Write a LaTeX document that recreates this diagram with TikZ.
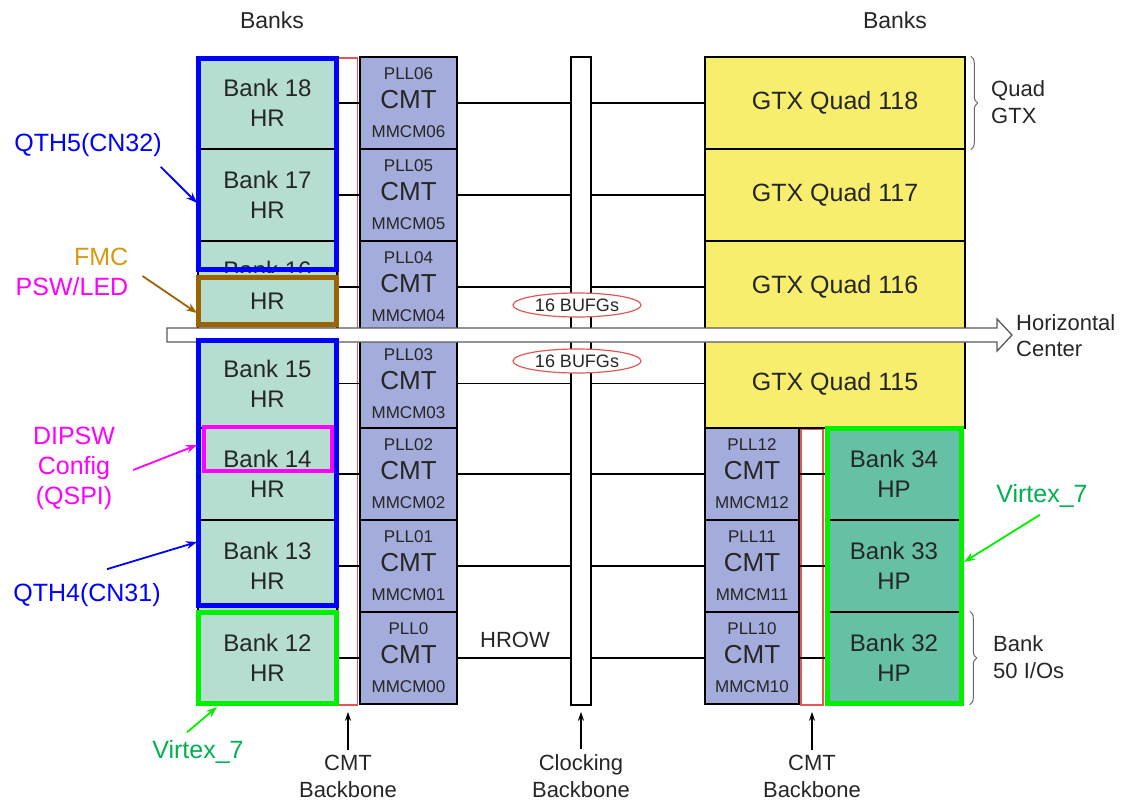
\documentclass[tikz,border=0pt]{standalone}
\usepackage{fontspec}
\setmainfont{Liberation Sans}
\definecolor{banklt}{HTML}{B5DED1}
\definecolor{bankdk}{HTML}{66C0A6}
\definecolor{cmtfill}{HTML}{A3ACDB}
\definecolor{gtxfill}{HTML}{F7EE6E}
\definecolor{bbred}{HTML}{E05858}
\definecolor{txtdark}{HTML}{262626}
\definecolor{qthblue}{HTML}{0000FF}
\definecolor{fmcbrown}{HTML}{9A6400}
\definecolor{fmcgold}{HTML}{D49A10}
\definecolor{dipmag}{HTML}{FF00FF}
\definecolor{vgreen}{HTML}{00F000}
\definecolor{vtext}{HTML}{00B050}
\usepackage{tikz}
\usetikzlibrary{arrows.meta, shapes.geometric, decorations.pathreplacing}

\begin{document}
\begin{tikzpicture}[
  x=1pt, y=-1pt,
  cell/.style={draw=black, line width=1.5pt, inner sep=0pt, align=center, text=txtdark},
  bankhr/.style={cell, fill=banklt, minimum width=139pt, minimum height=92pt,
                 font=\fontsize{24}{30}\selectfont},
  bankhp/.style={bankhr, fill=bankdk, minimum width=136pt},
  cmt/.style={cell, fill=cmtfill, minimum width=97pt, minimum height=92pt,
              font=\fontsize{17}{29}\selectfont},
  gtx/.style={cell, fill=gtxfill, minimum width=260pt, minimum height=92pt,
              font=\fontsize{25}{30}\selectfont},
  bbone/.style={draw=bbred, line width=1.6pt, fill=white, inner sep=0pt},
  hilite/.style={line width=5pt, inner sep=0pt},
  bufg/.style={ellipse, draw=bbred, line width=1.2pt, fill=white, inner sep=0pt,
               minimum width=128pt, minimum height=24pt, text=txtdark,
               font=\fontsize{18}{20}\selectfont},
  link/.style={draw=black, line width=1.5pt},
  plain/.style={font=\fontsize{22}{27}\selectfont, text=txtdark, align=center, inner sep=1pt},
  ann/.style={font=\fontsize{25}{30}\selectfont, align=center, inner sep=1pt},
  annarr/.style={line width=1.8pt, -{Stealth[length=11pt,width=8pt]}},
  uparr/.style={line width=1.5pt, -{Stealth[length=9pt,width=6pt]}, shorten <=4pt, shorten >=6pt},
  brc/.style={decorate, decoration={brace, amplitude=7pt}, draw=black!60, line width=1pt},
]
\useasboundingbox (0,0) rectangle (1127,804);

% backbones behind the links
\node[bbone, minimum width=19pt, minimum height=647pt] (cmtbbL) at (348,381.5) {};
\node[bbone, minimum width=22pt, minimum height=276pt] (cmtbbR) at (812,567) {};

% left banks
\node[bankhr] (b18) at (267.5,103) {Bank 18\\HR};
\node[bankhr] (b17) at (267.5,195) {Bank 17\\HR};
\node[bankhr] (b16) at (267.5,287) {};
\node[bankhr, minimum height=89pt] (b15) at (267.5,383.5) {Bank 15\\HR};
\node[bankhr] (b14) at (267.5,474) {Bank 14\\HR};
\node[bankhr] (b13) at (267.5,566) {Bank 13\\HR};
\node[bankhr] (b12) at (267.5,658) {Bank 12\\HR};
\begin{scope}
  \clip (198,242) rectangle (337,272);
  \node[font=\fontsize{24}{30}\selectfont, text=txtdark, inner sep=0pt] (b16t) at (267.5,270) {Bank 16};
\end{scope}

% left CMT column
\node[cmt] (c06) at (408.5,103) {PLL06\\{\fontsize{26}{29}\selectfont CMT}\\MMCM06};
\node[cmt] (c05) at (408.5,195) {PLL05\\{\fontsize{26}{29}\selectfont CMT}\\MMCM05};
\node[cmt] (c04) at (408.5,287) {PLL04\\{\fontsize{26}{29}\selectfont CMT}\\MMCM04};
\node[cmt, minimum height=89pt] (c03) at (408.5,383.5) {PLL03\\{\fontsize{26}{29}\selectfont CMT}\\MMCM03};
\node[cmt] (c02) at (408.5,474) {PLL02\\{\fontsize{26}{29}\selectfont CMT}\\MMCM02};
\node[cmt] (c01) at (408.5,566) {PLL01\\{\fontsize{26}{29}\selectfont CMT}\\MMCM01};
\node[cmt] (c00) at (408.5,658) {PLL0\\{\fontsize{26}{29}\selectfont CMT}\\MMCM00};

% GTX quads
\node[gtx] (g118) at (835,103) {GTX Quad 118};
\node[gtx] (g117) at (835,195) {GTX Quad 117};
\node[gtx] (g116) at (835,287) {GTX Quad 116};
\node[gtx, minimum height=89pt] (g115) at (835,383.5) {GTX Quad 115};

% right CMT column and HP banks
\node[cmt, minimum width=94pt] (c12) at (752,474) {PLL12\\{\fontsize{26}{29}\selectfont CMT}\\MMCM12};
\node[cmt, minimum width=94pt] (c11) at (752,566) {PLL11\\{\fontsize{26}{29}\selectfont CMT}\\MMCM11};
\node[cmt, minimum width=94pt] (c10) at (752,658) {PLL10\\{\fontsize{26}{29}\selectfont CMT}\\MMCM10};
\node[bankhp] (b34) at (894,474) {Bank 34\\HP};
\node[bankhp] (b33) at (894,566) {Bank 33\\HP};
\node[bankhp] (b32) at (894,658) {Bank 32\\HP};

% links
\draw[link] (b18) -- (c06);
\draw[link] (b17) -- (c05);
\draw[link] (b16) -- (c04);
\draw[link] (b15) -- (c03);
\draw[link] (b14) -- (c02);
\draw[link] (b13) -- (c01);
\draw[link] (b12) -- (c00);
\draw[link] (c06) -- (g118);
\draw[link] (c05) -- (g117);
\draw[link] (c04) -- (g116);
\draw[link] (c03) -- (g115);
\draw[link] (c02) -- (c12);
\draw[link] (c01) -- (c11);
\draw[link] (c00) -- (c10);
\draw[link] (c12) -- (b34);
\draw[link] (c11) -- (b33);
\draw[link] (c10) -- (b32);

\node[bbone, draw=black, line width=1.5pt, minimum width=20pt, minimum height=648pt] (clkbb) at (581,381) {};
\node[plain] (hrow) at (515,640) {HROW};

% horizontal center
\draw[fill=white, draw=black!65, line width=1.3pt]
  (167,328) -- (997,328) -- (997,319) -- (1012,335) -- (997,351) -- (997,342) -- (167,342) -- cycle;
\node[plain, align=left, anchor=west, font=\fontsize{22}{26}\selectfont] (hcent) at (1015,336) {Horizontal\\Center};

\node[bufg] (bufgA) at (577,305) {16 BUFGs};
\node[bufg] (bufgB) at (577,361) {16 BUFGs};

% highlighted groups
\node[hilite, draw=fmcbrown, fill=banklt, minimum width=138pt, minimum height=47pt,
      text=txtdark, font=\fontsize{24}{30}\selectfont] (fmc) at (267.5,301) {HR};
\node[hilite, draw=qthblue, minimum width=138pt, minimum height=211pt] (qth5) at (267.5,164) {};
\node[hilite, draw=qthblue, minimum width=138pt, minimum height=265pt] (qth4) at (267.5,473) {};
\node[hilite, draw=vgreen, minimum width=138pt, minimum height=91pt] (v7l) at (267.5,658) {};
\node[hilite, draw=dipmag, line width=4pt, minimum width=128pt, minimum height=44pt] (dip) at (268,449) {};
\node[hilite, draw=vgreen, minimum width=134pt, minimum height=275pt] (v7r) at (894,566) {};

% headers and braces
\node[plain, font=\fontsize{23}{27}\selectfont] (hdrL) at (272,20) {Banks};
\node[plain, font=\fontsize{23}{27}\selectfont] (hdrR) at (895,20) {Banks};
\draw[brc] ([xshift=5pt]g118.north east) -- ([xshift=5pt]g118.south east);
\node[plain, align=left, anchor=west] (lblquad) at (990,102) {Quad\\GTX};
\draw[brc] ([xshift=7pt]b32.north east) -- ([xshift=7pt]b32.south east);
\node[plain, align=left, anchor=west] (lblio) at (992,657) {Bank\\50 I/Os};

% backbone labels
\node[plain] (lblbbL) at (348,776) {CMT\\Backbone};
\node[plain] (lblclk) at (581,776) {Clocking\\Backbone};
\node[plain] (lblbbR) at (812,776) {CMT\\Backbone};
\draw[uparr] (lblbbL.north) -- (cmtbbL.south);
\draw[uparr] (lblclk.north) -- (clkbb.south);
\draw[uparr] (lblbbR.north) -- (cmtbbR.south);

% annotations
\node[ann, text=qthblue] (lblqth5) at (88,145) {QTH5(CN32)};
\node[ann, align=right] (lblfmc) at (72,272) {\textcolor{fmcgold}{FMC}\\\textcolor{dipmag}{PSW/LED}};
\node[ann, text=dipmag] (lbldip) at (74,468) {DIPSW\\Config\\(QSPI)};
\node[ann, text=qthblue] (lblqth4) at (87,595) {QTH4(CN31)};
\node[ann, text=vtext] (lblv7a) at (198,752) {Virtex\_7};
\node[ann, text=vtext] (lblv7b) at (1042,496) {Virtex\_7};
\coordinate (tq5) at (197,203);
\coordinate (tfmc) at (197,313);
\coordinate (tdip) at (197,445);
\coordinate (tq4) at (197,542);
\coordinate (tv7a) at (217,707);
\coordinate (tv7b) at (964,562);
\draw[annarr, qthblue] ([shift={(-2,9)}]lblqth5.south east) -- (tq5);
\draw[annarr, fmcbrown] ([shift={(13,4)}]lblfmc.east) -- (tfmc);
\draw[annarr, dipmag] ([shift={(17,2)}]lbldip.east) -- (tdip);
\draw[annarr, qthblue] ([shift={(20,-13)}]lblqth4.north) -- (tq4);
\draw[annarr, vgreen] ([shift={(-11,-7)}]lblv7a.north) -- (tv7a);
\draw[annarr, vgreen] ([shift={(-2,6)}]lblv7b.south) -- (tv7b);

\end{tikzpicture}
\end{document}
